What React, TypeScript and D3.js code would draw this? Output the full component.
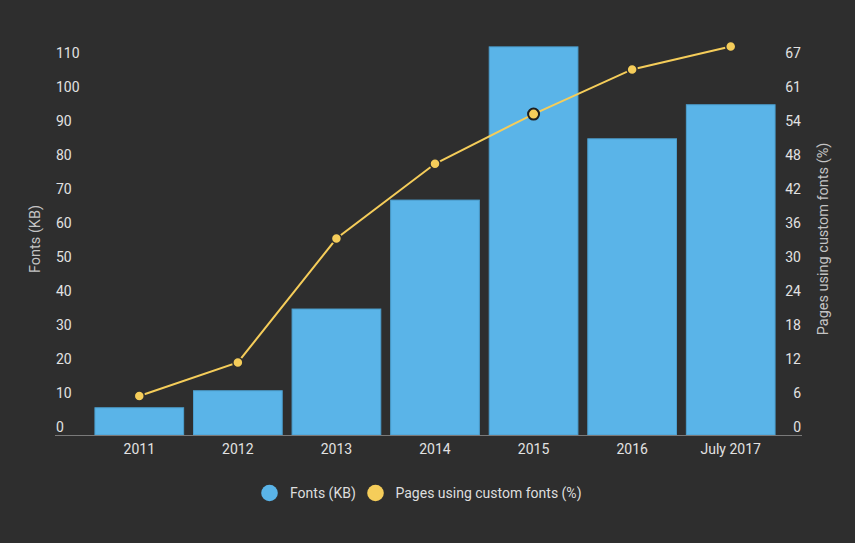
import React from "react";
import * as d3 from "d3";

const categories = ["2011", "2012", "2013", "2014", "2015", "2016", "July 2017"];
const fontsKB = [8, 13, 37, 69, 114, 87, 97];
const pagesPct = [7.0, 13.0, 35.2, 48.6, 57.5, 65.5, 69.6];
const leftTicks = [0, 10, 20, 30, 40, 50, 60, 70, 80, 90, 100, 110];
const rightTicks = [0, 6.1, 12.2, 18.3, 24.4, 30.5, 36.6, 42.7, 48.8, 54.9, 61, 67.1];
const highlightIndex = 4;

const W = 855;
const H = 543;
const BG = "#2e2e2e";
const BLUE = "#5ab4e8";
const YELLOW = "#f5cd5a";
const FONT = "Roboto, 'Noto Sans', sans-serif";

export default function App() {
  const x = d3.scaleBand<string>().domain(categories).range([90, 780]).paddingInner(0.1).paddingOuter(0.05);
  const yL = d3.scaleLinear().domain([0, 110]).range([435, 60.5]);
  const yR = d3.scaleLinear().domain([0, 67.1]).range([435, 60.5]);
  const cx = (c: string) => (x(c) as number) + x.bandwidth() / 2;
  const line = d3
    .line<number>()
    .x((_, i) => cx(categories[i]))
    .y((d) => yR(d));

  return (
    <svg width={W} height={H} style={{ position: "absolute", left: 0, top: 0, display: "block" }} fontFamily={FONT}>
      <rect x={0} y={0} width={W} height={H} fill={BG} />
      {fontsKB.map((v, i) => (
        <rect
          key={categories[i]}
          x={x(categories[i])}
          y={yL(v)}
          width={x.bandwidth()}
          height={yL(0) - yL(v)}
          fill={BLUE}
          stroke="#4c9fcf"
          strokeWidth={1}
        />
      ))}
      <line x1={55} x2={802} y1={yL(0) + 0.5} y2={yL(0) + 0.5} stroke="#7a7a7a" strokeWidth={1} />
      {leftTicks.map((t) => (
        <text key={"l" + t} x={56} y={yL(t) - 3} fill="#e2e2e2" fontSize={14}>
          {t}
        </text>
      ))}
      {rightTicks.map((t) => (
        <text key={"r" + t} x={801} y={yR(t) - 3} fill="#e2e2e2" fontSize={14} textAnchor="end">
          {Math.floor(t + 1e-9)}
        </text>
      ))}
      <text
        transform={`translate(40,239) rotate(-90)`}
        textAnchor="middle"
        fill="#c4c4c4"
        fontSize={14.5}
      >
        Fonts (KB)
      </text>
      <text
        transform={`translate(828,239) rotate(-90)`}
        textAnchor="middle"
        fill="#c4c4c4"
        fontSize={14.5}
      >
        Pages using custom fonts (%)
      </text>
      {categories.map((c) => (
        <text key={"x" + c} x={cx(c)} y={454} textAnchor="middle" fill="#e2e2e2" fontSize={14}>
          {c}
        </text>
      ))}
      <path d={line(pagesPct) || ""} fill="none" stroke={YELLOW} strokeWidth={2} />
      {pagesPct.map((v, i) =>
        i === highlightIndex ? (
          <circle key={"p" + i} cx={cx(categories[i])} cy={yR(v)} r={5.5} fill={YELLOW} stroke="#1e1e1e" strokeWidth={2} />
        ) : (
          <circle key={"p" + i} cx={cx(categories[i])} cy={yR(v)} r={5} fill={YELLOW} stroke={BG} strokeWidth={1.5} />
        )
      )}
      <circle cx={269.5} cy={493} r={8.3} fill={BLUE} />
      <text x={290} y={498} fill="#dedede" fontSize={14}>
        Fonts (KB)
      </text>
      <circle cx={375.5} cy={493} r={8.3} fill={YELLOW} />
      <text x={395.5} y={498} fill="#dedede" fontSize={14}>
        Pages using custom fonts (%)
      </text>
    </svg>
  );
}
